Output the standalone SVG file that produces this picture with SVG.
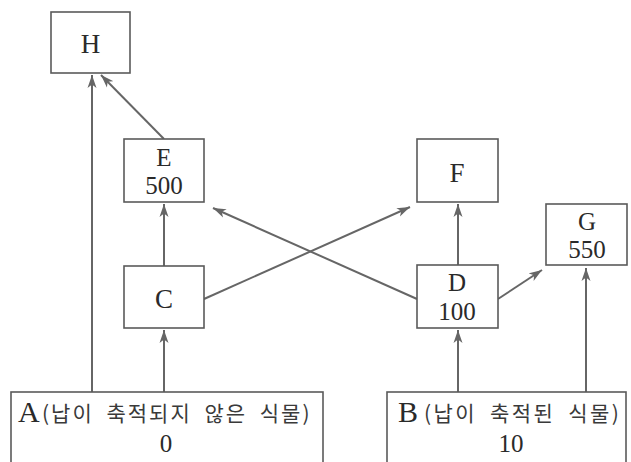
<svg xmlns="http://www.w3.org/2000/svg" width="631" height="462" viewBox="0 0 631 462">
<style>
.box{fill:#fff;stroke:#5a5a5a;stroke-width:1.6}
.lbl{font-family:"Liberation Serif","DejaVu Serif",serif;font-size:25px;fill:#2a2a2a;text-anchor:middle}
.let{font-size:27px}
.big{font-family:"Liberation Serif","DejaVu Serif",serif;font-size:30px;fill:#2a2a2a}
.kr{font-family:"Noto Sans CJK KR","Noto Sans",sans-serif;font-size:21px;fill:#3a3a3a;letter-spacing:2px;word-spacing:6px}
.arr{stroke:#666;stroke-width:2;fill:none;marker-end:url(#ah)}
</style>
<defs>
<marker id="ah" markerUnits="userSpaceOnUse" markerWidth="14" markerHeight="10" refX="13" refY="5" orient="auto">
<path d="M0,0.5 L13,5 L0,9.5 L3.5,5 z" fill="#666"/>
</marker>
</defs>
<rect width="631" height="462" fill="#fff"/>
<g id="connectors">
<line class="arr" x1="92" y1="392" x2="92" y2="75"/>
<line class="arr" x1="164" y1="139" x2="101" y2="75"/>
<line class="arr" x1="164" y1="266" x2="164" y2="204"/>
<line class="arr" x1="164" y1="392" x2="164" y2="330"/>
<line class="arr" x1="204" y1="299" x2="410" y2="207"/>
<line class="arr" x1="417" y1="299" x2="213" y2="208"/>
<line class="arr" x1="458" y1="265" x2="458" y2="204"/>
<line class="arr" x1="498" y1="299" x2="542" y2="270"/>
<line class="arr" x1="458" y1="392" x2="458" y2="330"/>
<line class="arr" x1="586" y1="392" x2="586" y2="268"/>
</g>
<g id="H">
<rect class="box" x="51" y="12" width="79" height="61"/>
<text class="lbl let" x="90.5" y="53">H</text>
</g>
<g id="E">
<rect class="box" x="124" y="139" width="80" height="63"/>
<text class="lbl" x="164" y="166">E</text>
<text class="lbl" x="164" y="194">500</text>
</g>
<g id="F">
<rect class="box" x="417" y="139" width="81" height="63"/>
<text class="lbl let" x="457" y="182">F</text>
</g>
<g id="G">
<rect class="box" x="546" y="204" width="81" height="61"/>
<text class="lbl" x="587" y="230">G</text>
<text class="lbl" x="587" y="258">550</text>
</g>
<g id="C">
<rect class="box" x="124" y="266" width="80" height="62"/>
<text class="lbl let" x="164" y="308">C</text>
</g>
<g id="D">
<rect class="box" x="417" y="265" width="81" height="63"/>
<text class="lbl" x="457" y="291">D</text>
<text class="lbl" x="457" y="320">100</text>
</g>
<g id="A">
<rect class="box" x="11" y="392" width="312" height="80"/>
<text class="big" x="18" y="422">A</text>
<text class="kr" x="42" y="421">(납이 축적되지 않은 식물)</text>
<text class="lbl" x="166" y="452">0</text>
</g>
<g id="B">
<rect class="box" x="387" y="392" width="239" height="80"/>
<text class="big" x="398" y="422">B</text>
<text class="kr" x="424" y="421" style="letter-spacing:2.4px">(납이 축적된 식물)</text>
<text class="lbl" x="511" y="452">10</text>
</g>
</svg>
